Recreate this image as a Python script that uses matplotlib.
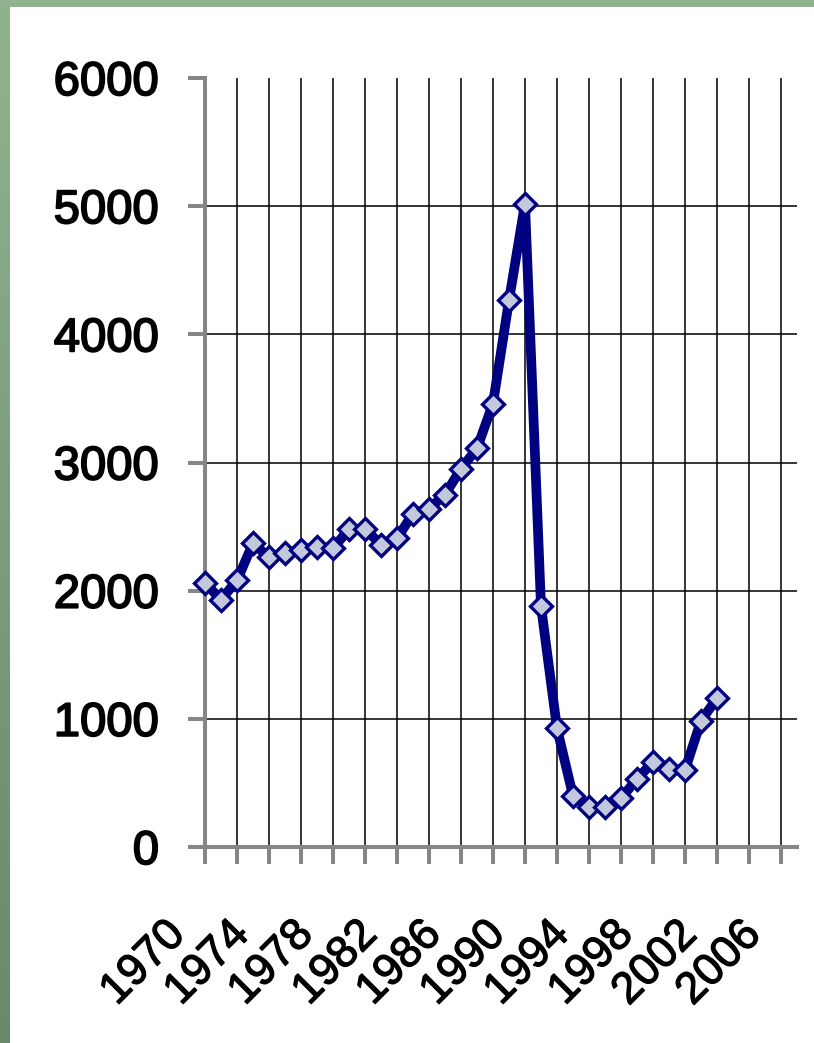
import numpy as np
import matplotlib
matplotlib.use("Agg")
import matplotlib.pyplot as plt
import matplotlib.transforms as mtransforms
import matplotlib.patheffects as pe
from matplotlib.colors import LinearSegmentedColormap
from matplotlib.patches import Rectangle

# data
years = [1970, 1971, 1972, 1973, 1974, 1975, 1976, 1977, 1978, 1979,
         1980, 1981, 1982, 1983, 1984, 1985, 1986, 1987, 1988, 1989,
         1990, 1991, 1992, 1993, 1994, 1995, 1996, 1997, 1998, 1999,
         2000, 2001, 2002]
values = [2060, 1930, 2080, 2370, 2260, 2290, 2320, 2340, 2330, 2480,
          2480, 2360, 2410, 2600, 2640, 2750, 2950, 3110, 3460, 4265,
          5020, 1880, 926, 400, 310, 310, 380, 530, 665, 605,
          600, 985, 1160]
label_years = [1970, 1974, 1978, 1982, 1986, 1990, 1994, 1998, 2002, 2006]
minor_years = [1972, 1976, 1980, 1984, 1988, 1992, 1996, 2000, 2004]
y_ticks = [0, 1000, 2000, 3000, 4000, 5000, 6000]

W, H = 814, 1043
fig = plt.figure(figsize=(W / 100, H / 100), dpi=100, facecolor="#8FB38F")

# green frame: vertical gradient on the left strip, white slide panel
strip = fig.add_axes([0, 0, 10 / W, 1])
green = LinearSegmentedColormap.from_list("g", ["#6B886B", "#8FB38F"])
strip.imshow(np.linspace(0, 1, 200).reshape(-1, 1), cmap=green, aspect="auto",
             origin="lower", extent=[0, 1, 0, 1])
strip.set_axis_off()
fig.add_artist(Rectangle((10 / W, 0), 1 - 10 / W, 1 - 7 / H,
                         transform=fig.transFigure, facecolor="white",
                         edgecolor="none", zorder=-2))

ax = fig.add_axes([205 / W, (H - 847) / H, (797 - 205) / W, (847 - 78) / H])
ax.set_facecolor("none")
ax.set_zorder(2)

ax.plot(years, values, color="#000080", lw=7, marker="D", markersize=11,
        markerfacecolor="#C3C8DC", markeredgecolor="#000080",
        markeredgewidth=2.4, zorder=5, clip_on=False)

ax.set_xlim(1970, 2007)
ax.set_ylim(0, 6000)

ax.set_xticks(label_years)
ax.set_xticks(minor_years, minor=True)
ax.set_xticklabels([str(y) for y in label_years], rotation=45, ha="right",
                   fontsize=32, family="Liberation Sans",
                   path_effects=[pe.withStroke(linewidth=0.9, foreground="black")])
ax.set_yticks(y_ticks)
ax.set_yticklabels([str(v) for v in y_ticks], fontsize=34,
                   family="Liberation Sans",
                   path_effects=[pe.withStroke(linewidth=1.3, foreground="black")])

gray = "#868686"
ax.tick_params(axis="both", which="both", direction="out", length=12,
               width=2.9, color=gray)
ax.tick_params(axis="x", which="major", pad=36)
ax.tick_params(axis="y", pad=21)

for lab in ax.get_xticklabels():
    lab.set_transform(lab.get_transform() +
                      mtransforms.ScaledTranslation(-12 / 100, 0, fig.dpi_scale_trans))

ax.grid(True, axis="x", which="both", color="black", lw=1.1)
ax.grid(True, axis="y", color="black", lw=1.1)
ax.yaxis.get_gridlines()[-1].set_visible(False)
ax.set_axisbelow(True)

for side in ["top", "right"]:
    ax.spines[side].set_visible(False)
for side in ["left", "bottom"]:
    ax.spines[side].set_color(gray)
    ax.spines[side].set_linewidth(2.9)
    ax.spines[side].set_zorder(3)

fig.savefig("out.png", dpi=100, facecolor=fig.get_facecolor())
